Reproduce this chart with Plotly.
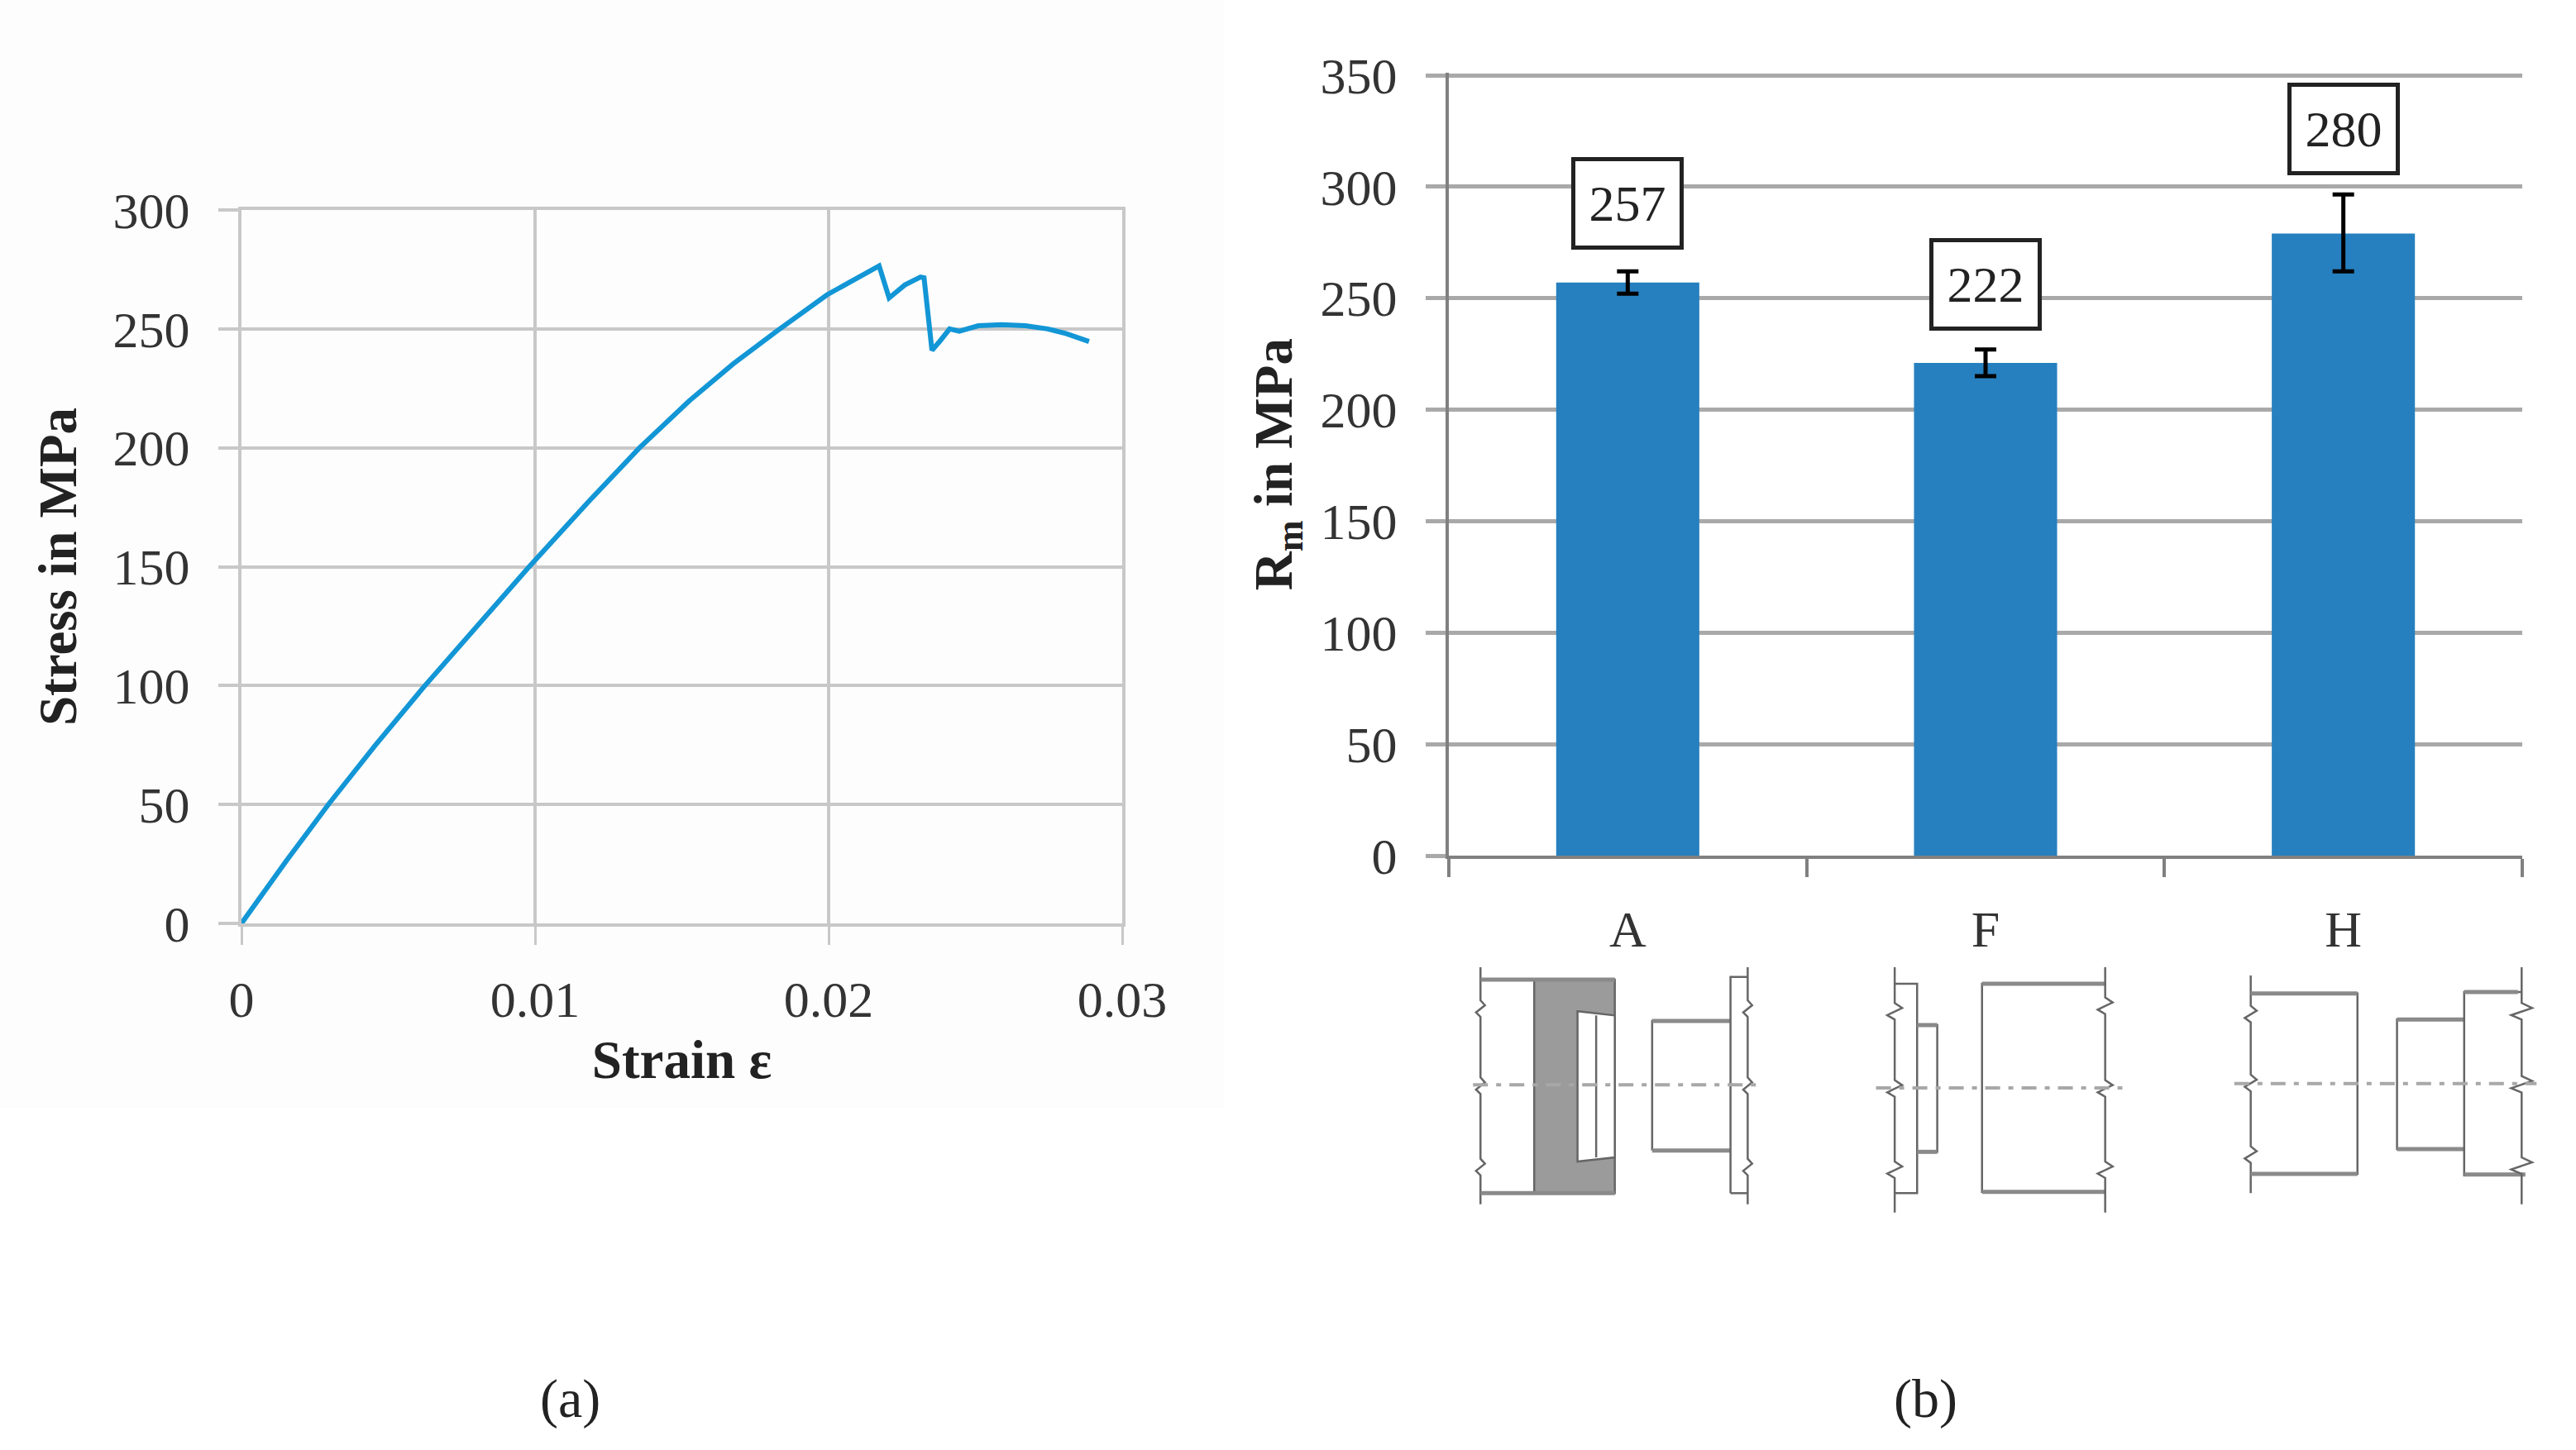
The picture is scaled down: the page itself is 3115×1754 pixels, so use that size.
import plotly.graph_objects as go

W, H = 3115, 1754
FONT = "Liberation Serif"

# Panel (a): stress-strain curve
strain = [0, 0.00154, 0.00299, 0.00455, 0.00625, 0.00792, 0.0098, 0.01187, 0.01356, 0.01525, 0.01675,
          0.01825, 0.01994, 0.02172, 0.02206, 0.0226, 0.02313, 0.02325, 0.02352, 0.0238, 0.02412,
          0.02445, 0.0251, 0.0259, 0.0267, 0.02746, 0.0281, 0.02887]
stress = [0, 26.5, 50.5, 74.8, 100, 123.5, 150, 178, 200, 219.7, 235.3,
          249.2, 264.3, 276.5, 263, 268.5, 271.8, 271.5, 241, 245, 250,
          249, 251.3, 251.8, 251.3, 250, 248, 244.7]
x_ticks_a = [0, 0.01, 0.02, 0.03]
x_labels_a = ["0", "0.01", "0.02", "0.03"]

# Panel (b): tensile strength
joints = ["A", "F", "H"]
rm_mean = [257, 221, 279]
rm_err_up = [5, 6, 17.5]
rm_err_down = [5, 6, 17]
rm_labels = ["257", "222", "280"]
label_centres_px = [246, 344, 156]


def px(x):
    return x / W


def py(y):
    return 1 - y / H


def sx(z):
    return 1700 + z / 1.108


def sy(z):
    return 1100 + z / 3


def poly(points, closed=False):
    p = [f"{px(sx(a)):.5f},{py(sy(b)):.5f}" for a, b in points]
    return "M" + " L".join(p) + (" Z" if closed else "")


def wiggly(x, y0, y1, centres, amp):
    pts = [(x, y0)]
    for c in centres:
        pts += [(x, c - 30), (x + amp, c - 12), (x - amp, c + 14), (x, c + 30)]
    pts.append((x, y1))
    return pts


LINE = dict(color="#666666", width=2.5)
THICK = dict(color="#8a8a8a", width=5)
DASH = dict(color="#a8a8a8", width=4, dash="18px,10px,6px,10px")

shapes = [dict(type="rect", xref="paper", yref="paper", x0=0, x1=px(1480), y0=py(1340), y1=1,
               fillcolor="#fdfdfd", line=dict(width=0), layer="below")]


def add(points, line=LINE, fill=None, closed=False):
    s = dict(type="path", xref="paper", yref="paper", path=poly(points, closed), line=line, layer="above")
    if fill:
        s["fillcolor"] = fill
    shapes.append(s)


# Joint A drawing
add([(172, 255), (280, 255), (280, 1030), (172, 1030)], fill="#9b9b9b", closed=True)
add([(230, 370), (280, 385), (280, 900), (230, 915)], fill="#ffffff", closed=True)
add([(255, 385), (255, 900)])
add(wiggly(100, 210, 1070, [360, 640, 935], 6))
add([(100, 255), (172, 255)], THICK)
add([(172, 255), (280, 255)], THICK)
add([(100, 1030), (280, 1030)], THICK)
add([(330, 875), (330, 405), (435, 405)])
add([(330, 405), (435, 405)], THICK)
add([(330, 875), (435, 875)], THICK)
add([(435, 1030), (435, 245), (458, 245)])
add([(435, 1030), (458, 1030)])
add(wiggly(458, 210, 1070, [360, 640, 935], 6))
add([(90, 637), (475, 637)], DASH)

# Joint F drawing
add(wiggly(655, 210, 1100, [370, 650, 945], 10))
add([(655, 270), (685, 270), (685, 1030), (655, 1030)], LINE)
add([(685, 420), (712, 420), (712, 880), (685, 880)], LINE)
add([(685, 420), (712, 420)], THICK)
add([(685, 880), (712, 880)], THICK)
add([(937, 270), (772, 270), (772, 1025), (937, 1025)], LINE)
add([(772, 270), (937, 270)], THICK)
add([(772, 1025), (937, 1025)], THICK)
add(wiggly(937, 210, 1100, [350, 650, 945], 10))
add([(630, 648), (960, 648)], DASH)

# Joint H drawing
add(wiggly(1132, 240, 1030, [380, 630, 890], 8))
add([(1132, 305), (1275, 305), (1275, 960), (1132, 960)], LINE)
add([(1132, 305), (1275, 305)], THICK)
add([(1132, 960), (1275, 960)], THICK)
add([(1418, 400), (1328, 400), (1328, 870), (1418, 870)], LINE)
add([(1328, 400), (1418, 400)], THICK)
add([(1328, 870), (1418, 870)], THICK)
add([(1495, 300), (1418, 300), (1418, 965), (1495, 965)], LINE)
add([(1418, 300), (1490, 300)], THICK)
add([(1418, 962), (1500, 962)], THICK)
add(wiggly(1495, 210, 1070, [370, 635, 930], 14))
add([(1110, 632), (1515, 632)], DASH)

fig = go.Figure()
fig.add_trace(go.Scatter(x=strain, y=stress, mode="lines", xaxis="x", yaxis="y",
                         line=dict(color="#1296d6", width=6), showlegend=False))
fig.add_trace(go.Bar(x=joints, y=rm_mean, xaxis="x2", yaxis="y2", width=0.4,
                     marker=dict(color="#2680bf", line=dict(width=0)), showlegend=False,
                     error_y=dict(type="data", symmetric=False, array=rm_err_up, arrayminus=rm_err_down,
                                  color="#000000", thickness=5, width=13)))

annotations = []
for j, lab, cy in zip(joints, rm_labels, label_centres_px):
    annotations.append(dict(x=j, xref="x2", y=py(cy), yref="paper", text=lab, showarrow=False,
                            xanchor="center", yanchor="middle", align="center", valign="middle",
                            width=126, height=102, bgcolor="#ffffff", bordercolor="#222222",
                            borderwidth=5, borderpad=0, font=dict(family=FONT, size=62, color="#222222")))
for text, x in [("(a)", 689), ("(b)", 2328)]:
    annotations.append(dict(x=px(x), y=py(1692), xref="paper", yref="paper", text=text, showarrow=False,
                            xanchor="center", yanchor="middle",
                            font=dict(family=FONT, size=66, color="#222222")))

tick_font = dict(family=FONT, size=62, color="#333333")
title_font = dict(family=FONT, size=65, color="#222222")
GRID_A = "#c8c8c8"
GRID_B = "#a9a9a9"

fig.update_layout(
    width=W, height=H, margin=dict(l=0, r=0, t=0, b=0, autoexpand=False),
    paper_bgcolor="#ffffff", plot_bgcolor="rgba(0,0,0,0)", shapes=shapes, annotations=annotations,
    bargap=0.6,
    xaxis=dict(domain=[px(292), px(1357)], range=[0, 0.03], tickvals=x_ticks_a, ticktext=x_labels_a,
               showgrid=True, gridcolor=GRID_A, gridwidth=4, zeroline=False,
               showline=True, linecolor=GRID_A, linewidth=4, mirror=True,
               ticks="outside", ticklen=22, tickwidth=3, tickcolor=GRID_A,
               tickfont=tick_font, ticklabelstandoff=13,
               title=dict(text="<b>Strain ε</b>", font=title_font, standoff=17)),
    yaxis=dict(domain=[py(1117), py(254)], range=[0, 300], dtick=50,
               showgrid=True, gridcolor=GRID_A, gridwidth=4, zeroline=False,
               showline=True, linecolor=GRID_A, linewidth=4, mirror=True,
               ticks="outside", ticklen=24, tickwidth=4, tickcolor=GRID_A,
               tickfont=tick_font, ticklabelstandoff=22,
               title=dict(text="<b>Stress in MPa</b>", font=title_font, standoff=24)),
    xaxis2=dict(domain=[px(1752), px(3050)], anchor="y2", range=[-0.5, 2.5], type="category",
                categoryorder="array", categoryarray=joints, tickson="boundaries", ticks="outside",
                ticklen=22, tickwidth=4, tickcolor="#808080", showline=True, linecolor="#808080",
                linewidth=4, showgrid=False, tickfont=tick_font, ticklabelstandoff=32),
    yaxis2=dict(domain=[py(1035), py(88.3)], anchor="x2", range=[0, 351], dtick=50,
                showgrid=True, gridcolor=GRID_B, gridwidth=5, zeroline=False,
                showline=True, linecolor="#808080", linewidth=4, ticks="outside", ticklen=24,
                tickwidth=5, tickcolor=GRID_B, tickfont=tick_font, ticklabelstandoff=22,
                title=dict(text="<b>R<sub>m</sub> in MPa</b>", font=title_font, standoff=14)),
)

fig.write_html("out.html", post_script="document.body.style.margin='0';",
               config={"displayModeBar": False})
